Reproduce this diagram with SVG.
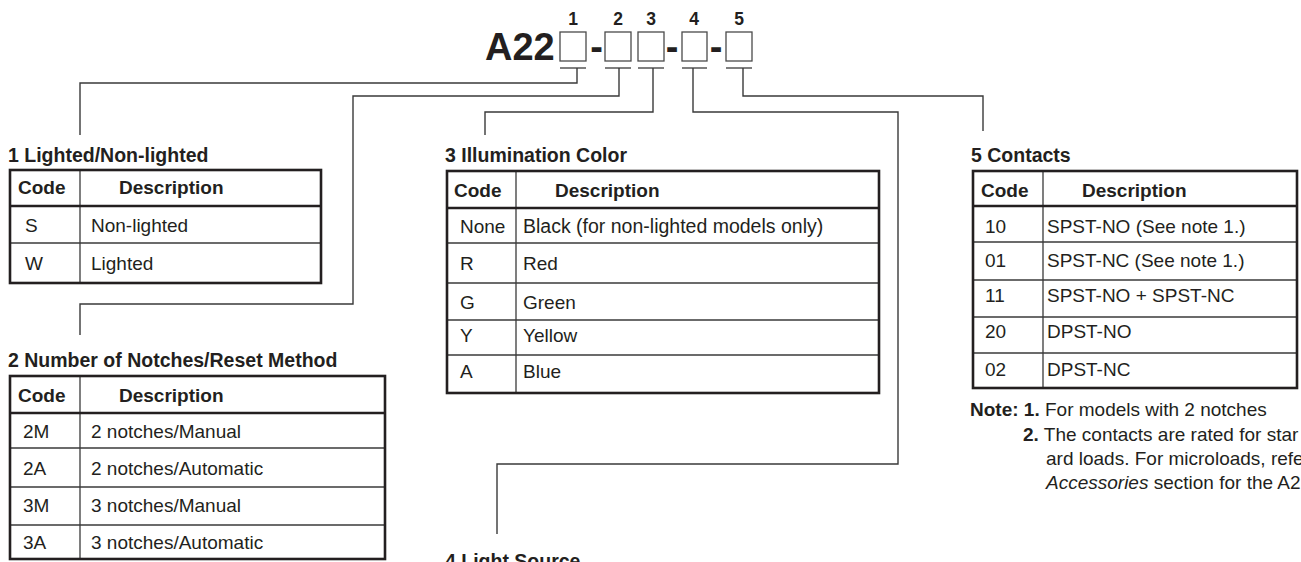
<svg xmlns="http://www.w3.org/2000/svg" width="1301" height="562" viewBox="0 0 1301 562">
<style>
text{font-family:"Liberation Sans",Arial,Helvetica,sans-serif;fill:#231f20}
.t{font-size:19.5px;font-weight:bold}
.h{font-size:19px;font-weight:bold}
.b{font-size:19px}
.n{font-size:19px}
.frame{fill:none;stroke:#231f20;stroke-width:2.6}
.thick{stroke:#231f20;stroke-width:2.4}
.thin{stroke:#3a3a3a;stroke-width:1.3}
.conn{fill:none;stroke:#3a3a3a;stroke-width:1.4}
.box{fill:#fff;stroke:#4a4a4a;stroke-width:1.3}
</style>
<rect width="1301" height="562" fill="#fff"/>

<g id="model-code">
<text x="485" y="60" style="font-size:38px;font-weight:bold">A22</text>
<text x="596.5" y="60" text-anchor="middle" style="font-size:38px;font-weight:bold">-</text>
<text x="672" y="60" text-anchor="middle" style="font-size:38px;font-weight:bold">-</text>
<text x="716" y="60" text-anchor="middle" style="font-size:38px;font-weight:bold">-</text>
<rect class="box" x="560" y="32" width="26" height="29"/>
<rect class="box" x="605" y="32" width="26" height="29"/>
<rect class="box" x="638" y="32" width="26" height="29"/>
<rect class="box" x="682" y="32" width="25" height="29"/>
<rect class="box" x="726" y="32" width="26" height="29"/>
<g style="font-size:17.5px;font-weight:bold" text-anchor="middle">
<text x="573" y="25">1</text>
<text x="618" y="25">2</text>
<text x="651" y="25">3</text>
<text x="694" y="25">4</text>
<text x="739" y="25">5</text>
</g>
<g class="thin">
<line x1="560" y1="68" x2="586" y2="68"/>
<line x1="605" y1="68" x2="631" y2="68"/>
<line x1="638" y1="68" x2="664" y2="68"/>
<line x1="682" y1="68" x2="707" y2="68"/>
<line x1="726" y1="68" x2="752" y2="68"/>
</g>
</g>

<g id="connectors">
<polyline class="conn" points="577,68 577,83 80,83 80,135"/>
<polyline class="conn" points="619,68 619,96 353,96 353,304 80,304 80,335"/>
<polyline class="conn" points="653,68 653,112 485,112 485,135"/>
<polyline class="conn" points="693,68 693,112 898,112 898,464 497,464 497,534"/>
<polyline class="conn" points="743,68 743,96 983,96 983,131"/>
</g>

<g id="table1">
<text class="t" x="8" y="162">1 Lighted/Non-lighted</text>
<line class="thin" x1="80" y1="170" x2="80" y2="283"/>
<line class="thin" x1="10" y1="243" x2="321" y2="243"/>
<line class="thick" x1="10" y1="206" x2="321" y2="206"/>
<rect class="frame" x="10" y="170" width="311" height="113"/>
<text class="h" x="18" y="194">Code</text>
<text class="h" x="119" y="194">Description</text>
<text class="b" x="25" y="232">S</text><text class="b" x="91" y="232">Non-lighted</text>
<text class="b" x="25" y="270">W</text><text class="b" x="91" y="270">Lighted</text>
</g>

<g id="table2">
<text class="t" x="8" y="367">2 Number of Notches/Reset Method</text>
<line class="thin" x1="80" y1="376" x2="80" y2="559"/>
<line class="thin" x1="10" y1="448" x2="385" y2="448"/>
<line class="thin" x1="10" y1="487" x2="385" y2="487"/>
<line class="thin" x1="10" y1="525" x2="385" y2="525"/>
<line class="thick" x1="10" y1="413" x2="385" y2="413"/>
<rect class="frame" x="10" y="376" width="375" height="183"/>
<text class="h" x="18" y="402">Code</text>
<text class="h" x="119" y="402">Description</text>
<text class="b" x="23" y="438">2M</text><text class="b" x="91" y="438">2 notches/Manual</text>
<text class="b" x="23" y="475">2A</text><text class="b" x="91" y="475">2 notches/Automatic</text>
<text class="b" x="23" y="512">3M</text><text class="b" x="91" y="512">3 notches/Manual</text>
<text class="b" x="23" y="549">3A</text><text class="b" x="91" y="549">3 notches/Automatic</text>
</g>

<g id="table3">
<text class="t" x="445" y="162">3 Illumination Color</text>
<line class="thin" x1="516" y1="171" x2="516" y2="393"/>
<line class="thin" x1="447" y1="243" x2="879" y2="243"/>
<line class="thin" x1="447" y1="283" x2="879" y2="283"/>
<line class="thin" x1="447" y1="320" x2="879" y2="320"/>
<line class="thin" x1="447" y1="355" x2="879" y2="355"/>
<line class="thick" x1="447" y1="208" x2="879" y2="208"/>
<rect class="frame" x="447" y="171" width="432" height="222"/>
<text class="h" x="454" y="197">Code</text>
<text class="h" x="555" y="197">Description</text>
<text class="b" x="460" y="233">None</text><text class="b" x="523" y="233" style="font-size:19.5px">Black (for non-lighted models only)</text>
<text class="b" x="460" y="270">R</text><text class="b" x="523" y="270">Red</text>
<text class="b" x="460" y="309">G</text><text class="b" x="523" y="309">Green</text>
<text class="b" x="460" y="342">Y</text><text class="b" x="523" y="342">Yellow</text>
<text class="b" x="460" y="378">A</text><text class="b" x="523" y="378">Blue</text>
</g>

<g id="table4">
<text class="t" x="445" y="568">4 Light Source</text>
</g>

<g id="table5">
<text class="t" x="971" y="162">5 Contacts</text>
<line class="thin" x1="1043" y1="171" x2="1043" y2="388"/>
<line class="thin" x1="973" y1="242" x2="1297" y2="242"/>
<line class="thin" x1="973" y1="280" x2="1297" y2="280"/>
<line class="thin" x1="973" y1="317" x2="1297" y2="317"/>
<line class="thin" x1="973" y1="353" x2="1297" y2="353"/>
<line class="thick" x1="973" y1="206" x2="1297" y2="206"/>
<rect class="frame" x="973" y="171" width="324" height="217"/>
<text class="h" x="981" y="197">Code</text>
<text class="h" x="1082" y="197">Description</text>
<text class="b" x="985" y="233">10</text><text class="b" x="1047" y="233">SPST-NO (See note 1.)</text>
<text class="b" x="985" y="267">01</text><text class="b" x="1047" y="267">SPST-NC (See note 1.)</text>
<text class="b" x="985" y="302">11</text><text class="b" x="1047" y="302">SPST-NO + SPST-NC</text>
<text class="b" x="985" y="338">20</text><text class="b" x="1047" y="338">DPST-NO</text>
<text class="b" x="985" y="376">02</text><text class="b" x="1047" y="376">DPST-NC</text>
</g>

<g id="notes">
<text class="n" x="970" y="416"><tspan font-weight="bold">Note: 1.</tspan> For models with 2 notches</text>
<text class="n" x="1023" y="441"><tspan font-weight="bold">2.</tspan> The contacts are rated for star</text>
<text class="n" x="1046" y="465">ard loads. For microloads, refe</text>
<text class="n" x="1046" y="489"><tspan font-style="italic">Accessories</tspan> section for the A2</text>
</g>
</svg>
